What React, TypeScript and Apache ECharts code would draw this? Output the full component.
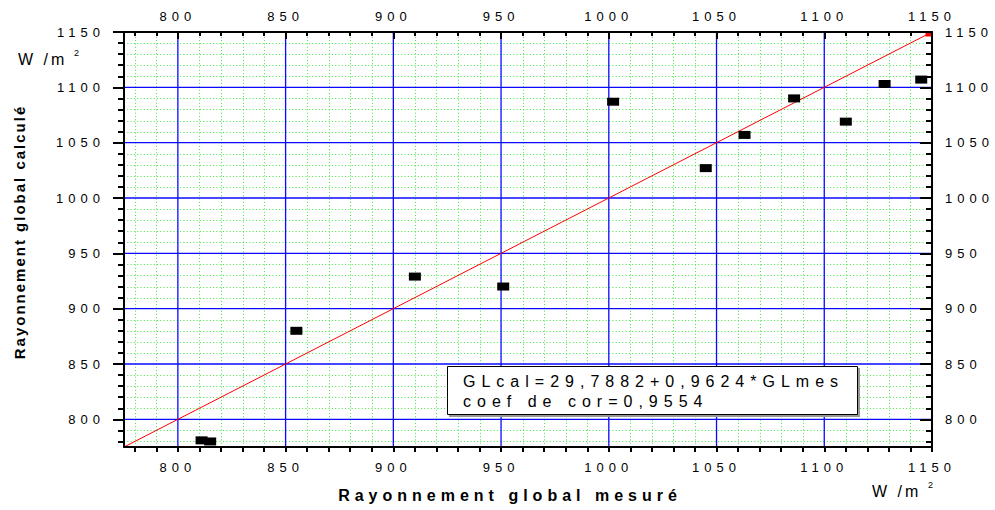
import React, { useEffect, useRef } from 'react';
import * as echarts from 'echarts';

// ---- data ----
const measured = [811, 815, 855, 910, 951, 1002, 1045, 1063, 1086, 1110, 1128, 1145];
const calculated = [781, 780, 880, 929, 920, 1087, 1027, 1057, 1090, 1069, 1103, 1107];
const diagonal = [775, 1150];
const axisRange = [775, 1150];
const majorTicks = [800, 850, 900, 950, 1000, 1050, 1100, 1150];
const majorGrid = [800, 850, 900, 950, 1000, 1050, 1100];
const minorStep = 10;
const equationLines = ['GLcal=29,7882+0,9624*GLmes', 'coef de cor=0,9554'];
const xTitle = 'Rayonnement global mesuré';
const yTitle = 'Rayonnement global calculé';
const unitText = 'W /m';
const unitExp = '2';

const minorTicks: number[] = [];
for (let v = axisRange[0] + 5; v <= axisRange[1]; v += minorStep) minorTicks.push(v);
const minorGrid = minorTicks.filter((v) => v % 50 !== 0 && v < axisRange[1]);

// grid lines: [value, direction (0 vertical / 1 horizontal), major flag]
const gridLines: number[][] = [
  ...minorGrid.map((v) => [v, 0, 0]),
  ...minorGrid.map((v) => [v, 1, 0]),
  ...majorGrid.map((v) => [v, 0, 1]),
  ...majorGrid.map((v) => [v, 1, 1]),
];

const fam = (ls: number) => `'Liberation Sans', ls${ls}`;
const css = `
body{margin:0}
#root text[style*="ls2"]{letter-spacing:2px}
#root text[style*="ls3"]{letter-spacing:3px}
#root text[style*="ls5"]{letter-spacing:5px}
#root text[style*="ls6"]{letter-spacing:6px}
`;

const tickLine = { color: '#000', width: 2 };
const labelStyle = (margin: number) => ({
  customValues: majorTicks,
  margin,
  fontSize: 13,
  fontFamily: fam(5),
  color: '#000',
  formatter: (v: number) => String(v),
});

function axis(extra: any) {
  return {
    type: 'value',
    min: axisRange[0],
    max: axisRange[1],
    z: 3,
    splitLine: { show: false },
    axisLine: { show: true, onZero: false, lineStyle: { color: '#000', width: 2 } },
    ...extra,
  };
}

export default function App() {
  const ref = useRef<HTMLDivElement>(null);
  useEffect(() => {
    if (!ref.current) return;
    const chart = echarts.init(ref.current, null, { renderer: 'svg' });
    const crisp = (n: number) => Math.round(n) + 0.5;
    chart.setOption({
      animation: false,
      backgroundColor: '#fff',
      grid: { left: 124, right: 63, top: 32, bottom: 63, containLabel: false },
      xAxis: [
        axis({
          position: 'bottom',
          axisTick: { show: true, inside: false, length: 5, customValues: minorTicks, lineStyle: tickLine },
          axisLabel: labelStyle(14),
        }),
        axis({
          position: 'top',
          axisTick: { show: true, inside: true, length: 4, customValues: minorTicks, lineStyle: tickLine },
          axisLabel: labelStyle(9),
        }),
        axis({
          position: 'top',
          axisLine: { show: false },
          axisTick: { show: true, inside: true, length: 7, customValues: majorTicks, lineStyle: tickLine },
          axisLabel: { show: false },
        }),
      ],
      yAxis: [
        axis({
          position: 'left',
          axisTick: { show: true, inside: false, length: 6, customValues: minorTicks, lineStyle: tickLine },
          axisLabel: labelStyle(19),
        }),
        axis({
          position: 'right',
          axisTick: { show: true, inside: true, length: 6, customValues: minorTicks, lineStyle: tickLine },
          axisLabel: labelStyle(13),
        }),
        axis({
          position: 'left',
          axisLine: { show: false },
          axisTick: { show: true, inside: false, length: 11, customValues: majorTicks, lineStyle: tickLine },
          axisLabel: { show: false },
        }),
        axis({
          position: 'right',
          axisLine: { show: false },
          axisTick: { show: true, inside: true, length: 12, customValues: majorTicks, lineStyle: tickLine },
          axisLabel: { show: false },
        }),
      ],
      series: [
        {
          type: 'custom',
          xAxisIndex: 0,
          yAxisIndex: 0,
          z: 1,
          silent: true,
          clip: false,
          data: gridLines,
          renderItem: (params: any, api: any) => {
            const v = api.value(0);
            const dir = api.value(1);
            const major = api.value(2);
            const p1 = dir === 0 ? api.coord([v, axisRange[0]]) : api.coord([axisRange[0], v]);
            const p2 = dir === 0 ? api.coord([v, axisRange[1]]) : api.coord([axisRange[1], v]);
            const shape = major
              ? { x1: p1[0], y1: p1[1], x2: p2[0], y2: p2[1] }
              : dir === 0
                ? { x1: crisp(p1[0]), y1: p1[1], x2: crisp(p2[0]), y2: p2[1] }
                : { x1: p1[0], y1: crisp(p1[1]), x2: p2[0], y2: crisp(p2[1]) };
            return {
              type: 'line',
              z2: major ? 2 : 1,
              shape,
              style: major
                ? { stroke: '#0a0aff', lineWidth: 1.3 }
                : { stroke: '#3ee63e', lineWidth: 1, lineDash: [1, 2.3] },
            };
          },
        },
        {
          type: 'line',
          xAxisIndex: 0,
          yAxisIndex: 0,
          z: 2,
          showSymbol: true,
          showAllSymbol: true,
          clip: false,
          lineStyle: { color: '#ff0000', width: 1 },
          itemStyle: { color: '#ff0000' },
          data: [
            { value: [diagonal[0], diagonal[0]], symbol: 'none' },
            { value: [diagonal[1], diagonal[1]], symbol: 'rect', symbolSize: [7, 5], symbolOffset: [-3, 2] },
          ],
          silent: true,
        },
        {
          type: 'scatter',
          xAxisIndex: 0,
          yAxisIndex: 0,
          z: 2,
          symbol: 'rect',
          symbolSize: [12, 8],
          itemStyle: { color: '#000', opacity: 1 },
          data: measured.map((x, i) => [x, calculated[i]]),
          silent: true,
        },
      ],
      graphic: [
        {
          type: 'text',
          x: 19,
          y: 232,
          rotation: Math.PI / 2,
          style: {
            text: yTitle,
            fontSize: 15,
            fontWeight: 'bold',
            fontFamily: fam(2),
            fill: '#000',
            align: 'center',
            verticalAlign: 'middle',
          },
        },
        {
          type: 'text',
          x: 510,
          y: 495,
          style: {
            text: xTitle,
            fontSize: 16,
            fontWeight: 'bold',
            fontFamily: fam(5),
            fill: '#000',
            align: 'center',
            verticalAlign: 'middle',
          },
        },
        {
          type: 'text',
          x: 18,
          y: 59,
          style: { text: unitText, fontSize: 16, fontFamily: fam(3), fill: '#000', align: 'left', verticalAlign: 'middle' },
        },
        {
          type: 'text',
          x: 74,
          y: 53,
          style: { text: unitExp, fontSize: 9, fontFamily: "'Liberation Sans'", fill: '#000', align: 'left', verticalAlign: 'middle' },
        },
        {
          type: 'text',
          x: 872,
          y: 491,
          style: { text: unitText, fontSize: 16, fontFamily: fam(3), fill: '#000', align: 'left', verticalAlign: 'middle' },
        },
        {
          type: 'text',
          x: 928,
          y: 485,
          style: { text: unitExp, fontSize: 9, fontFamily: "'Liberation Sans'", fill: '#000', align: 'left', verticalAlign: 'middle' },
        },
        {
          type: 'rect',
          z: 10,
          shape: { x: 449, y: 368, width: 411, height: 49 },
          style: { fill: '#999' },
        },
        {
          type: 'rect',
          z: 11,
          shape: { x: 447.5, y: 366.5, width: 410, height: 48 },
          style: { fill: '#fff', stroke: '#000', lineWidth: 1 },
        },
        {
          type: 'text',
          z: 12,
          x: 463,
          y: 381,
          style: { text: equationLines[0], fontSize: 16, fontFamily: fam(6), fill: '#000', align: 'left', verticalAlign: 'middle' },
        },
        {
          type: 'text',
          z: 12,
          x: 463,
          y: 401,
          style: { text: equationLines[1], fontSize: 16, fontFamily: fam(6), fill: '#000', align: 'left', verticalAlign: 'middle' },
        },
      ],
    });
    return () => chart.dispose();
  }, []);
  return (
    <>
      <style>{css}</style>
      <div ref={ref} style={{ position: 'fixed', left: 0, top: 0, width: 995, height: 510 }} />
    </>
  );
}
